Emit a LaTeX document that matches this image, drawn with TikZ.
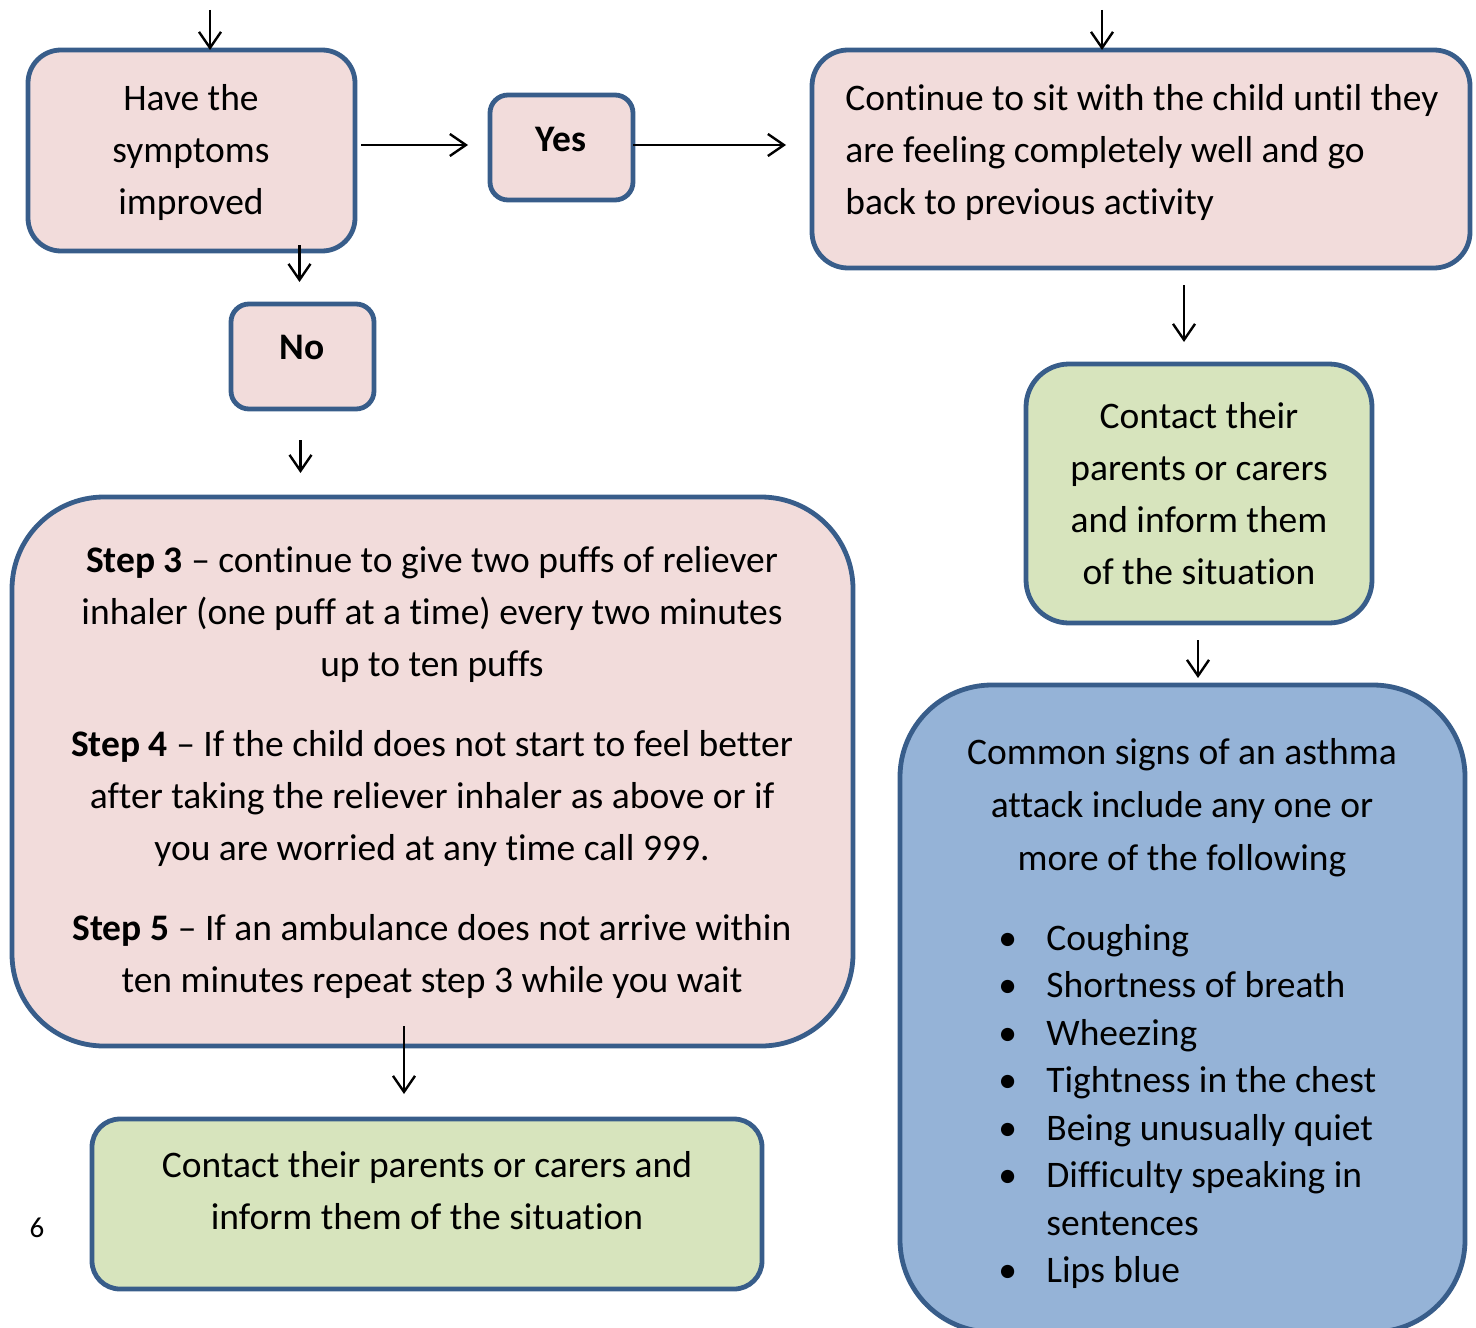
\documentclass[tikz,border=0pt]{standalone}
\usepackage{fontspec}
\setmainfont{Carlito}[Ligatures=NoCommon]
\usetikzlibrary{arrows.meta,fit,calc}
\definecolor{edgeblue}{HTML}{385D8A}
\definecolor{pinkfill}{HTML}{F2DCDB}
\definecolor{greenfill}{HTML}{D7E4BD}
\definecolor{bluefill}{HTML}{95B3D7}
\begin{document}
\begin{tikzpicture}[x=0.5pt,y=-0.5pt,
  box/.style={draw=edgeblue, line width=2.4pt, inner sep=0pt, outer sep=0pt},
  pinkbox/.style={box, fill=pinkfill},
  greenbox/.style={box, fill=greenfill},
  bluebox/.style={box, fill=bluefill},
  txt/.style={font=\fontsize{18.75}{26}\selectfont, inner sep=0pt, align=center},
  arr/.style={-{Straight Barb[length=8pt,width=11pt,line width=1.2pt]}, line width=1.2pt}
]
\useasboundingbox (0,0) rectangle (1476,1327);

% boxes
\node[pinkbox, rounded corners=16.5pt, fit={(28,50)(355,251)}] (b1) {};
\node[pinkbox, rounded corners=9pt, fit={(490,95)(633,200)}] (yes) {};
\node[pinkbox, rounded corners=18pt, fit={(812,50)(1470,268)}] (cont) {};
\node[pinkbox, rounded corners=9pt, fit={(231,304)(374,409)}] (no) {};
\node[pinkbox, rounded corners=46pt, fit={(12,497)(853,1046)}] (step) {};
\node[greenbox, rounded corners=14pt, fit={(92,1119)(762,1289)}] (greenB) {};
\node[greenbox, rounded corners=21.5pt, fit={(1026,364)(1372,623)}] (greenR) {};
\node[bluebox, rounded corners=46pt, fit={(900,685)(1465,1332)}] (blue) {};

% texts
\node[txt] (t1) at (191,152.5) {Have the\\symptoms\\improved};
\node[txt, font=\fontsize{18.75}{26}\selectfont\bfseries] (tyes) at (561,139) {Yes};
\node[txt, align=left, anchor=west] (tcont) at (845,152.5) {Continue to sit with the child until they\\are feeling completely well and go\\back to previous activity};
\node[txt, font=\fontsize{18.75}{26}\selectfont\bfseries] (tno) at (302,347) {No};
\node[txt] (tstep) at (432,772.5) {\textbf{Step 3} -- continue to give two puffs of reliever\\inhaler (one puff at a time) every two minutes\\up to ten puffs\\[14pt]
\textbf{Step 4} -- If the child does not start to feel better\\after taking the reliever inhaler as above or if\\you are worried at any time call 999.\\[14pt]
\textbf{Step 5} -- If an ambulance does not arrive within\\ten minutes repeat step 3 while you wait};
\node[txt] (tgb) at (427,1191) {Contact their parents or carers and\\inform them of the situation};
\node[txt] (tgr) at (1199,493.5) {Contact their\\parents or carers\\and inform them\\of the situation};
\node[txt, font=\fontsize{18.75}{26.5}\selectfont] (tbh) at (1182,808) {Common signs of an asthma\\attack include any one or\\more of the following};
\node[txt, align=left, anchor=west, font=\fontsize{18.75}{23.75}\selectfont] (tbl) at (998,1106.5) {%
\makebox[24pt][l]{•}Coughing\\
\makebox[24pt][l]{•}Shortness of breath\\
\makebox[24pt][l]{•}Wheezing\\
\makebox[24pt][l]{•}Tightness in the chest\\
\makebox[24pt][l]{•}Being unusually quiet\\
\makebox[24pt][l]{•}Difficulty speaking in\\
\makebox[24pt][l]{}sentences\\
\makebox[24pt][l]{•}Lips blue};
\node[inner sep=0pt, font=\fontsize{14.5}{17}\selectfont] (pg) at (37,1228) {6};

% connectors
\coordinate (in1) at (210,10);
\coordinate (in2) at (1102,10);
\draw[arr] (in1) -- (in1 |- b1.north);
\draw[arr] (in2) -- (in2 |- cont.north);
\draw[arr] ($(b1.east |- yes.west)+(6,-2.5)$) -- ($(yes.west)+(-22,-2.5)$);
\draw[arr] ($(yes.east)+(0,-2.5)$) -- ($(yes.east -| cont.west)+(-26,-2.5)$);
\draw[arr] ($(no.north |- b1.south)+(-3,-6)$) -- ($(no.north)+(-3,-22)$);
\draw[arr] ($(no.south)+(-2,31)$) -- ($(no.south |- step.north)+(-2,-24)$);
\draw[arr] ($(greenB.north |- step.south)+(-23,-20)$) -- ($(greenB.north)+(-23,-25)$);
\draw[arr] ($(greenR.north |- cont.south)+(-15,17)$) -- ($(greenR.north)+(-15,-22)$);
\draw[arr] ($(greenR.south)+(-1,17)$) -- ($(greenR.south)+(-1,55)$);
\end{tikzpicture}
\end{document}
